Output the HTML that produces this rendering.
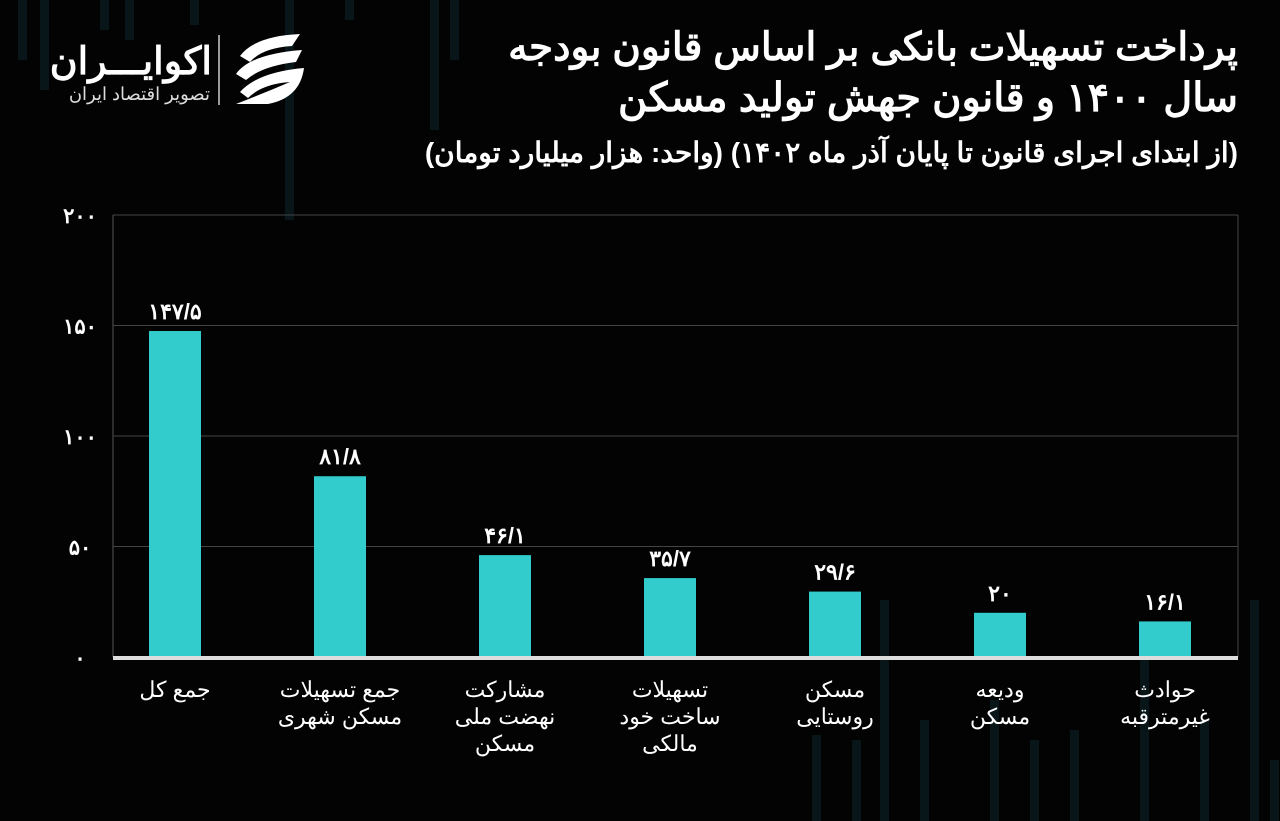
<!DOCTYPE html>
<html><head><meta charset="utf-8"><style>
body{margin:0;background:#030303;width:1280px;height:821px;overflow:hidden;font-family:"Liberation Sans","Noto Sans CJK SC",sans-serif;color:#fff;position:relative}
svg{position:absolute;left:0;top:0}
.t{position:absolute;right:42px;direction:rtl;text-align:right;white-space:nowrap;font-weight:bold;color:#fff;line-height:1}
</style></head><body>
<svg id="c" width="1280" height="821">
<g id="deco"></g>
<g>
<text x="212" y="74" font-size="38" font-weight="bold" fill="#fff" text-anchor="end">اکوایـــران</text>
<text x="210" y="100" font-size="18" fill="#ddd" text-anchor="end">تصویر اقتصاد ایران</text>
<line x1="219" y1="35" x2="219" y2="105" stroke="#ccc" stroke-width="1.5"/>
<g fill="#fff">
<path d="M240 56 Q255 36 300 34 L292 46 Q262 48 250 62 Z"/>
<path d="M236 74 Q250 54 302 50 L296 62 Q262 66 246 80 Z"/>
<path d="M240 92 Q258 72 304 68 Q300 98 268 104 Q248 104 236 104 Q262 94 290 82 Q262 84 248 98 Z"/>
</g>
</g>
<g id="plot"></g>
</svg>
<div class="t" style="top:28px;font-size:39px">پرداخت تسهیلات بانکی بر اساس قانون بودجه</div>
<div class="t" style="top:78px;font-size:40px">سال ۱۴۰۰ و قانون جهش تولید مسکن</div>
<div class="t" style="top:139px;font-size:28px">(از ابتدای اجرای قانون تا پایان آذر ماه ۱۴۰۲) (واحد: هزار میلیارد تومان)</div>
<script>
const categories=[["جمع کل"],["جمع تسهیلات","مسکن شهری"],["مشارکت","نهضت ملی","مسکن"],["تسهیلات","ساخت خود","مالکی"],["مسکن","روستایی"],["ودیعه","مسکن"],["حوادث","غیرمترقبه"]];
const values=[147.5,81.8,46.1,35.7,29.6,20,16.1];
const valueLabels=["۱۴۷/۵","۸۱/۸","۴۶/۱","۳۵/۷","۲۹/۶","۲۰","۱۶/۱"];
const ticks=[0,50,100,150,200];
const tickLabels=["۰","۵۰","۱۰۰","۱۵۰","۲۰۰"];
const NS="http://www.w3.org/2000/svg";
const L=113,R=1238,T=215,B=657;
const y=v=>B-(v/200)*(B-T);
const plot=document.getElementById('plot');
function mk(t,a,p){const e=document.createElementNS(NS,t);for(const k in a)e.setAttribute(k,a[k]);(p||plot).appendChild(e);return e;}
const deco=document.getElementById('deco');
// [x, y, height]
[[18,0,60],[40,0,90],[100,0,30],[125,0,40],[190,0,25],[285,0,220],[345,0,20],[430,0,130],[450,0,60],[880,600,221],[920,720,101],[990,700,121],[1070,730,91],[1140,640,181],[1200,720,101],[1250,600,221],[1270,760,61],[812,735,86],[852,740,81],[1030,740,81]].forEach(d=>{
 const r=mk('rect',{x:d[0],y:d[1],width:9,height:d[2],fill:'#08161a'},deco);
 
 
});
mk('line',{x1:L,y1:T,x2:L,y2:B,stroke:'#555','stroke-width':1});
ticks.forEach((t,i)=>{
 if(t>0){const g=mk('line',{x1:L,y1:y(t),x2:R,y2:y(t),stroke:'#444','stroke-width':1});
 
 }
 const tx=mk('text',{x:80,y:y(t)+8,'font-size':21,'font-weight':'bold',fill:'#fff','text-anchor':'middle'});
 tx.textContent=tickLabels[i];
 
 
});
mk('line',{x1:R,y1:T,x2:R,y2:B,stroke:'#444','stroke-width':1});
values.forEach((v,i)=>{
 const cx=L+62+i*165;
 const b=mk('rect',{x:cx-26,y:y(v),width:52,height:B-y(v),fill:'#33cccc'});
 
 
 const lb=mk('text',{x:cx,y:y(v)-12,'font-size':22,'font-weight':'bold',fill:'#fff','text-anchor':'middle'});
 lb.textContent=valueLabels[i];
 
 
 categories[i].forEach((ln,j)=>{
  const c=mk('text',{x:cx,y:697+j*27,'font-size':22,fill:'#fff','text-anchor':'middle'});
  c.textContent=ln;
  
  
 });
});
const base=mk('line',{x1:L,y1:B+1,x2:R,y2:B+1,stroke:'#ddd','stroke-width':4});


</script>
</body></html>
